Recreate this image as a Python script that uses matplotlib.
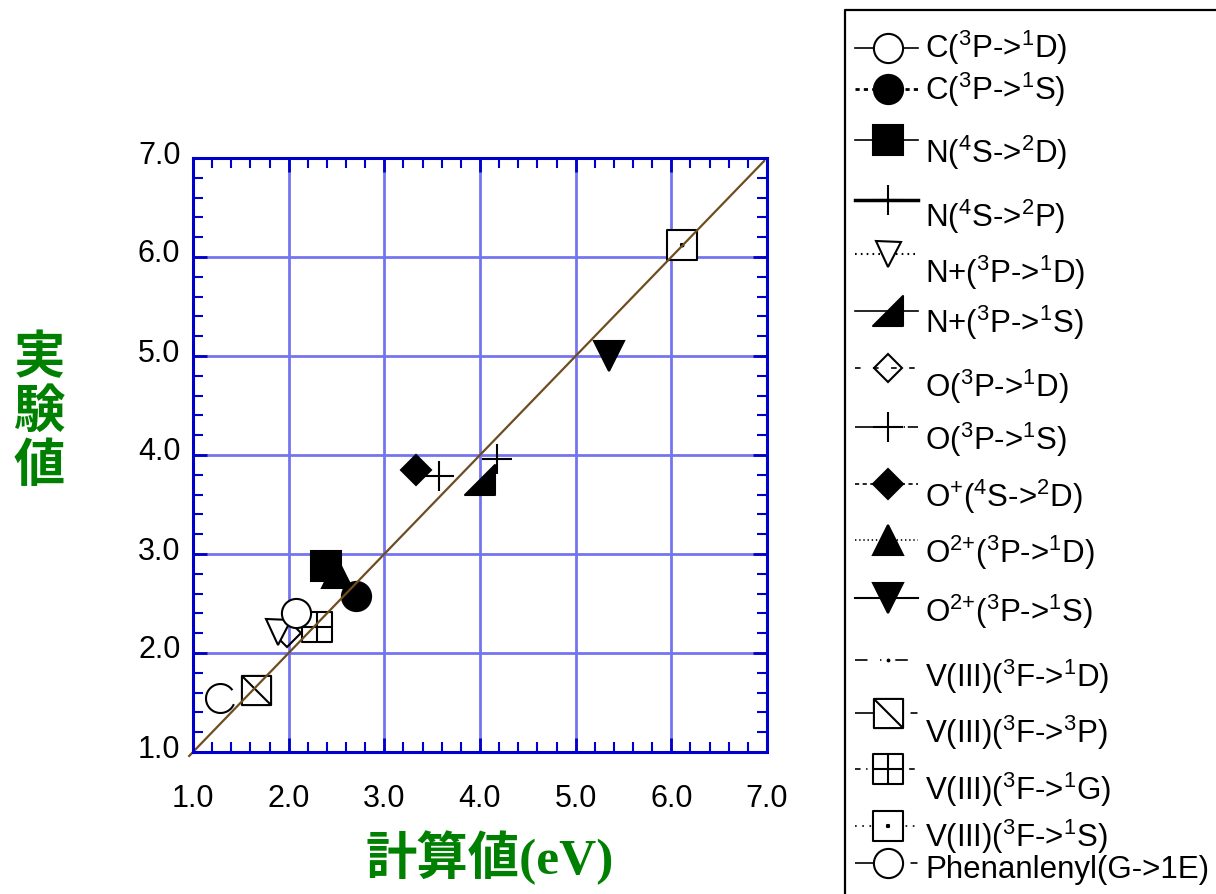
import matplotlib
matplotlib.use("Agg")
import matplotlib.pyplot as plt
import matplotlib.transforms as mtransforms
from matplotlib.path import Path
from matplotlib.ticker import MultipleLocator, FormatStrFormatter

plt.rcParams['font.family'] = ['Liberation Sans', 'DejaVu Sans']
plt.rcParams['mathtext.fontset'] = 'custom'
plt.rcParams['mathtext.rm'] = 'Liberation Sans'
plt.rcParams['mathtext.it'] = 'Liberation Sans'
plt.rcParams['lines.scale_dashes'] = False

# data: calculated (x) vs experimental (y) excitation energies, eV
labels = [
    'C($^{3}$P->$^{1}$D)', 'C($^{3}$P->$^{1}$S)', 'N($^{4}$S->$^{2}$D)', 'N($^{4}$S->$^{2}$P)',
    'N+($^{3}$P->$^{1}$D)', 'N+($^{3}$P->$^{1}$S)', 'O($^{3}$P->$^{1}$D)', 'O($^{3}$P->$^{1}$S)',
    'O$^{{+}}$($^{4}$S->$^{2}$D)', 'O$^{2{+}}$($^{3}$P->$^{1}$D)', 'O$^{2{+}}$($^{3}$P->$^{1}$S)',
    'V(III)($^{3}$F->$^{1}$D)', 'V(III)($^{3}$F->$^{3}$P)', 'V(III)($^{3}$F->$^{1}$G)',
    'V(III)($^{3}$F->$^{1}$S)', 'Phenanlenyl(G->1E)',
]
calc = [2.08, 2.70, 2.39, 4.18, 1.89, 4.00, 1.98, 3.57, 3.33, 2.51, 5.35, 6.11, 1.66, 2.30, 6.11, 1.28]
expt = [2.40, 2.58, 2.88, 3.96, 2.21, 3.75, 2.20, 3.79, 3.85, 2.81, 5.00, 6.12, 1.63, 2.26, 6.12, 1.55]
diag = [0.96, 6.97]

M, L, C = Path.MOVETO, Path.LINETO, Path.CLOSEPOLY
sq = [(-1, -1), (1, -1), (1, 1), (-1, 1), (-1, -1)]
sqc = [M, L, L, L, C]
sq_diag = Path(sq + [(-1, 1), (1, -1)], sqc + [M, L])
sq_grid = Path(sq + [(0, -1), (0, 1), (-1, 0), (1, 0)], sqc + [M, L, M, L])
d = 0.07
sq_dot = Path(sq + [(-d, -d), (d, -d), (d, d), (-d, d), (-d, -d)], sqc + [M, L, L, L, C])
half_tri = Path([(-1, -1), (1, -1), (1, 1), (-1, -1)], [M, L, L, C])
arc = Path.arc(35, 337)

# marker, size, face colour, legend line style, legend line width
styles = [
    ('o', 21, 'white', '-', 1.2),
    ('o', 21, 'black', (0, (3, 3)), 2.0),
    ('s', 22, 'black', '-', 1.2),
    ('+', 21, 'black', '-', 2.5),
    ('v', 18, 'white', (0, (1.2, 3)), 1.5),
    (half_tri, 21, 'black', '-', 1.2),
    ('D', 14, 'none', (0, (4, 9)), 1.2),
    ('+', 21, 'black', (0, (14, 2, 1, 2)), 1.2),
    ('D', 15, 'black', (0, (3, 2.5)), 1.2),
    ('^', 21, 'black', (0, (1, 2)), 1.2),
    ('v', 21, 'black', '-', 1.5),
    ('.', 2.5, 'black', (0, (9, 9, 1, 10)), 1.2),
    (sq_diag, 21, 'white', (0, (13, 27, 5, 10)), 1.2),
    (sq_grid, 21, 'white', (0, (4, 4, 1, 4)), 1.2),
    (sq_dot, 21, 'white', (0, (1.2, 4)), 1.2),
    (arc, 21, 'none', (0, (13, 27, 5, 10)), 1.2),
]

fig = plt.figure(figsize=(12.16, 8.94), dpi=100)
ax = fig.add_axes([193 / 1216, 1 - 752 / 894, 574 / 1216, 594 / 894])

for i in range(len(labels)):
    mk, ms, fc, ls, lw = styles[i]
    ax.plot([calc[i]], [expt[i]], linestyle='none', marker=mk, markersize=ms,
            markerfacecolor=fc, markeredgecolor='black', markeredgewidth=1.5,
            color='black', zorder=20 - i * 0.5)

ax.plot(diag, diag, color='#6e4d20', lw=1.6, zorder=30, clip_on=False)

ax.set_xlim(1.0, 7.0)
ax.set_ylim(1.0, 7.0)
ax.xaxis.set_major_locator(MultipleLocator(1.0))
ax.yaxis.set_major_locator(MultipleLocator(1.0))
ax.xaxis.set_minor_locator(MultipleLocator(0.2))
ax.yaxis.set_minor_locator(MultipleLocator(0.2))
ax.xaxis.set_major_formatter(FormatStrFormatter('%.1f'))
ax.yaxis.set_major_formatter(FormatStrFormatter('%.1f'))
ax.grid(True, which='major', color='#7474f0', lw=2.0, zorder=1)
ax.set_axisbelow(True)
ax.tick_params(which='both', direction='in', top=True, right=True, colors='#0000cc',
               labelcolor='black', labelsize=22)
ax.tick_params(which='major', length=10, width=2)
ax.tick_params(which='minor', length=7, width=1.5)
ax.tick_params(axis='x', pad=23)
ax.tick_params(axis='y', pad=9)
for sp in ax.spines.values():
    sp.set_color('#0000cc')
    sp.set_linewidth(2.2)
    sp.set_zorder(35)

# y tick labels sit a little above their ticks in the reference
up = mtransforms.ScaledTranslation(0, 6 / 100, fig.dpi_scale_trans)
for lab in ax.get_yticklabels():
    lab.set_transform(lab.get_transform() + up)

# axis titles
green = '#008000'
for ch, yc in zip(['実', '験', '値'], [358, 411, 466]):
    fig.text(39 / 1216, 1 - yc / 894, ch, fontsize=37, color=green, fontweight='bold',
             family=['Noto Sans CJK JP'], ha='center', va='center')
fig.text(490 / 1216, 1 - 858 / 894, '計算値(eV)', fontsize=37, color=green, fontweight='bold',
         family=['Liberation Serif', 'Noto Sans CJK JP'], ha='center', va='center')

# legend box drawn in figure pixel space
lax = fig.add_axes([0, 0, 1, 1], zorder=50)
lax.set_xlim(0, 1216)
lax.set_ylim(894, 0)
lax.axis('off')
lax.plot([845, 845, 1230], [900, 10, 10], color='black', lw=1.6, clip_on=False)
mark_y = [48, 89, 140, 200, 254, 311, 368, 427, 484, 540, 598, 660, 713, 769, 826, 863]
base_y = [58, 100, 163, 227, 283, 333, 397, 450, 507, 563, 622, 687, 743, 800, 847, 878]
for i in range(len(labels)):
    mk, ms, fc, ls, lw = styles[i]
    if mk is arc:
        mk = 'o'
    y = mark_y[i]
    lax.plot([855, 918], [y, y], color='black', lw=lw, linestyle=ls)
    lax.plot([888], [y], linestyle='none', marker=mk, markersize=ms, markerfacecolor=fc,
             markeredgecolor='black', markeredgewidth=1.5)
    lax.text(925, base_y[i], labels[i], fontsize=22.5, ha='left', va='baseline')

fig.savefig('out.png', dpi=100)
